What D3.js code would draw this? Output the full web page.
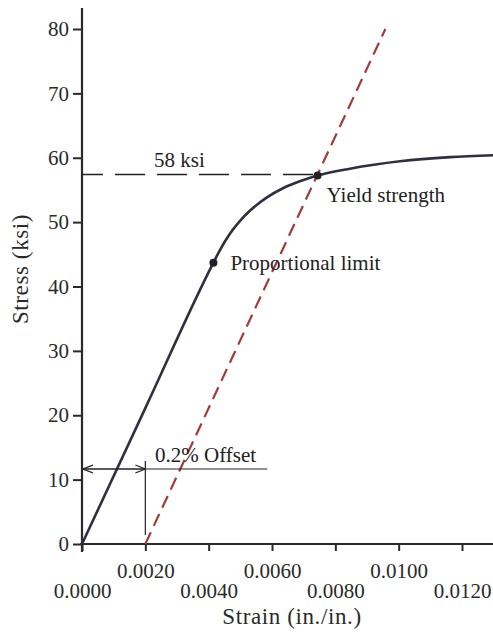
<!DOCTYPE html>
<html lang="en">
  <head>
    <meta charset="UTF-8" />
    <title>Stress-Strain Curve with 0.2% Offset</title>
    <script src="https://d3js.org/d3.v7.min.js"></script>
    <style>
      body {
        margin: 0;
        background: #fff;
        font-family: "Liberation Serif", "DejaVu Serif", serif;
      }
      .axis text {
        font-family: "Liberation Serif", serif;
        font-size: 21px;
        fill: #2a2a2a;
      }
      .axis line {
        stroke: #2a2a2a;
        stroke-width: 2;
      }
      .axis .domain {
        stroke: none;
      }
      .note {
        font-size: 21px;
        fill: #222;
      }
      .title {
        font-size: 23px;
        letter-spacing: 0.6px;
        fill: #2a2a2a;
      }
    </style>
  </head>
  <body>
    <svg width="493" height="632" id="chart"></svg>
    <script>
      // stress-strain curve
      const strain = [0, 0.002, 0.00415, 0.00436, 0.00467, 0.00499, 0.00531, 0.00583, 0.00636, 0.00688, 0.00744, 0.00846, 0.01004, 0.01162, 0.013];
      const stress = [0, 21.1, 43.7, 45.7, 48.2, 50.2, 51.8, 53.8, 55.3, 56.35, 57.25, 58.3, 59.45, 60.1, 60.4];

      // 0.2% offset line
      const offsetStrain = [0.002, 0.00958];
      const offsetStress = [0, 80];

      // marked points
      const pointNames = ["Proportional limit", "Yield strength"];
      const pointStrain = [0.00415, 0.00744];
      const pointStress = [43.7, 57.25];

      const yieldLevel = 57.4;
      const yieldLabel = "58 ksi";
      const offsetLabel = "0.2% Offset";
      const offsetArrowLevel = 11.65;

      const xTicks = [0, 0.002, 0.004, 0.006, 0.008, 0.01, 0.012];
      const yTicks = [0, 10, 20, 30, 40, 50, 60, 70, 80];

      const svg = d3.select("#chart");

      const x = d3.scaleLinear().domain([0, 0.012]).range([82, 462]);
      const y = d3.scaleLinear().domain([0, 80]).range([544, 29]);

      const dark = "#2e3040";
      const red = "#a33c37";

      // arrow head for the offset dimension
      svg
        .append("defs")
        .append("marker")
        .attr("id", "arrow")
        .attr("viewBox", "0 -5 10 10")
        .attr("refX", 10)
        .attr("refY", 0)
        .attr("markerWidth", 10)
        .attr("markerHeight", 10)
        .attr("markerUnits", "userSpaceOnUse")
        .attr("orient", "auto-start-reverse")
        .append("path")
        .attr("d", "M0,-4L10,0L0,4")
        .attr("fill", "none")
        .attr("stroke", "#222")
        .attr("stroke-width", 1.2);

      // axis lines
      svg
        .append("line")
        .attr("x1", x(0))
        .attr("x2", x(0))
        .attr("y1", y(0) + 8)
        .attr("y2", 8)
        .attr("stroke", "#2a2a2a")
        .attr("stroke-width", 2.2);

      svg
        .append("line")
        .attr("x1", x(0) - 2)
        .attr("x2", 493)
        .attr("y1", y(0))
        .attr("y2", y(0))
        .attr("stroke", "#2a2a2a")
        .attr("stroke-width", 2.2);

      // y axis
      svg
        .append("g")
        .attr("class", "axis")
        .attr("transform", `translate(${x(0)},0)`)
        .call(d3.axisLeft(y).tickValues(yTicks).tickSize(9).tickPadding(4).tickFormat(d3.format("d")));

      // x axis, labels alternate between two rows
      const xAxisG = svg
        .append("g")
        .attr("class", "axis")
        .attr("transform", `translate(0,${y(0)})`)
        .call(d3.axisBottom(x).tickValues(xTicks).tickSize(7).tickFormat(d3.format(".4f")));

      xAxisG
        .selectAll("text")
        .attr("dy", 0)
        .attr("y", (d, i) => (i % 2 === 0 ? 54 : 34));

      svg
        .append("text")
        .attr("class", "title")
        .attr("x", 292)
        .attr("y", 624)
        .attr("text-anchor", "middle")
        .text("Strain (in./in.)");

      svg
        .append("text")
        .attr("class", "title")
        .attr("transform", "translate(28,269) rotate(-90)")
        .attr("text-anchor", "middle")
        .text("Stress (ksi)");

      // 58 ksi dashed line
      svg
        .append("line")
        .attr("x1", x(0))
        .attr("x2", x(0.0073))
        .attr("y1", y(yieldLevel))
        .attr("y2", y(yieldLevel))
        .attr("stroke", "#222")
        .attr("stroke-width", 1.3)
        .attr("stroke-dasharray", "30,12")
        .attr("stroke-dashoffset", 9);

      svg
        .append("text")
        .attr("class", "note")
        .attr("x", 154)
        .attr("y", 167)
        .text(yieldLabel);

      // offset line (red dashed)
      const line = d3
        .line()
        .x((d) => x(d[0]))
        .y((d) => y(d[1]));

      svg
        .append("path")
        .datum(d3.zip(offsetStrain, offsetStress))
        .attr("d", line)
        .attr("fill", "none")
        .attr("stroke", red)
        .attr("stroke-width", 2.2)
        .attr("stroke-dasharray", "13,7");

      // stress-strain curve
      svg
        .append("path")
        .datum(d3.zip(strain, stress))
        .attr("d", line.curve(d3.curveMonotoneX))
        .attr("fill", "none")
        .attr("stroke", dark)
        .attr("stroke-width", 2.6);

      // offset dimension
      svg
        .append("line")
        .attr("x1", x(0))
        .attr("x2", x(0.00585))
        .attr("y1", y(offsetArrowLevel))
        .attr("y2", y(offsetArrowLevel))
        .attr("stroke", "#222")
        .attr("stroke-width", 1.2);

      svg
        .append("line")
        .attr("x1", x(0) + 1)
        .attr("x2", x(0.002))
        .attr("y1", y(offsetArrowLevel))
        .attr("y2", y(offsetArrowLevel))
        .attr("stroke", "#222")
        .attr("stroke-width", 1.2)
        .attr("marker-start", "url(#arrow)")
        .attr("marker-end", "url(#arrow)");

      svg
        .append("line")
        .attr("x1", x(0.002))
        .attr("x2", x(0.002))
        .attr("y1", y(12.9))
        .attr("y2", y(1.4))
        .attr("stroke", "#222")
        .attr("stroke-width", 1.2);

      svg
        .append("text")
        .attr("class", "note")
        .attr("x", 155)
        .attr("y", 462)
        .text(offsetLabel);

      // marked points
      svg
        .selectAll(".pt")
        .data(d3.zip(pointStrain, pointStress))
        .join("circle")
        .attr("class", "pt")
        .attr("cx", (d) => x(d[0]))
        .attr("cy", (d) => y(d[1]))
        .attr("r", 4)
        .attr("fill", "#222");

      svg
        .append("text")
        .attr("class", "note")
        .attr("x", x(pointStrain[0]) + 17)
        .attr("y", 270)
        .text(pointNames[0]);

      svg
        .append("text")
        .attr("class", "note")
        .attr("x", x(pointStrain[1]) + 9)
        .attr("y", 202)
        .text(pointNames[1]);
    </script>
  </body>
</html>
